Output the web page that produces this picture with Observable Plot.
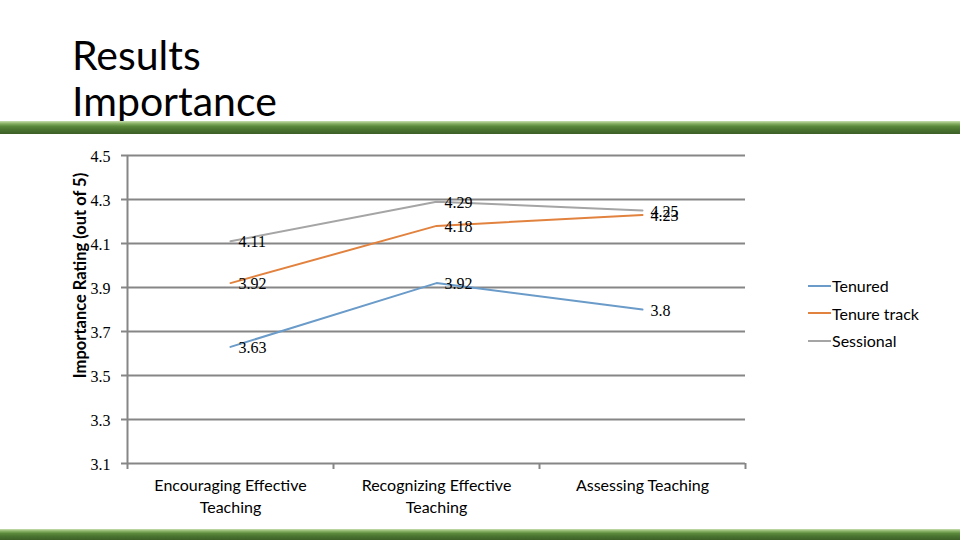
<!DOCTYPE html>
<html>
<head>
<meta charset="utf-8">
<script src="https://cdn.jsdelivr.net/npm/d3@7"></script>
<script src="https://cdn.jsdelivr.net/npm/@observablehq/plot@0.6"></script>
<style>
  html, body { margin: 0; padding: 0; background: #fff; }
  #page { position: relative; width: 960px; height: 540px; overflow: hidden; background: #fff; }
  #title { position: absolute; left: 72px; top: 32px; font-family: Lato, sans-serif; font-size: 41px; line-height: 46px; color: #000; }
  .bar { position: absolute; left: 0; width: 960px;
         background: linear-gradient(to bottom, #c9dfb2 0%, #8db56a 18%, #5b8a3c 40%, #4a7430 65%, #3c5f27 100%); }
  #chart { position: absolute; left: 0; top: 0; }
  #legend { position: absolute; left: 808px; top: 272px; font-family: Lato, sans-serif; font-size: 16px; color: #000; }
  .row { display: flex; align-items: center; height: 27.5px; }
  .sw { width: 23px; height: 2px; margin-right: 1px; }
</style>
</head>
<body>
<div id="page">
  <div id="title">Results<br>Importance</div>
  <div class="bar" style="top:121px;height:13px"></div>
  <div class="bar" style="top:529px;height:11px"></div>
  <div id="chart"></div>
  <div id="legend"></div>
</div>
<script>
const categories = ["Encouraging Effective\nTeaching", "Recognizing Effective\nTeaching", "Assessing Teaching"];
const seriesNames = ["Tenured", "Tenure track", "Sessional"];
const tenured = [3.63, 3.92, 3.8];
const tenureTrack = [3.92, 4.18, 4.23];
const sessional = [4.11, 4.29, 4.25];
const yTicks = [3.1, 3.3, 3.5, 3.7, 3.9, 4.1, 4.3, 4.5];
const seriesColors = ["#6a9bc9", "#e2823f", "#a5a5a5"];

const seriesValues = [tenured, tenureTrack, sessional];
const rows = [];
seriesNames.forEach((s, si) => {
  seriesValues[si].forEach((v, i) => rows.push({series: s, xi: i + 0.5, value: v}));
});

const gridColor = "#868686";
const chart = Plot.plot({
  width: 960,
  height: 540,
  marginLeft: 127,
  marginRight: 215,
  marginTop: 155,
  marginBottom: 77,
  style: {background: "transparent", overflow: "visible"},
  x: {domain: [0, 3]},
  y: {domain: [3.1, 4.5]},
  color: {domain: seriesNames, range: seriesColors},
  marks: [
    Plot.gridY(yTicks, {stroke: gridColor, strokeOpacity: 1, strokeWidth: 2}),
    Plot.ruleX([0], {stroke: gridColor, strokeWidth: 2}),
    Plot.axisY(yTicks, {tickSize: 6, stroke: gridColor, strokeWidth: 2, tickFormat: () => "", label: null}),
    Plot.text(yTicks, {y: d => d, text: d3.format(".1f"), frameAnchor: "left", textAnchor: "end", dx: -17, dy: 1,
      fontFamily: "Liberation Serif", fontSize: 16, fill: "#000"}),
    Plot.axisX([0, 1, 2, 3], {tickSize: 6, stroke: gridColor, strokeWidth: 2, tickFormat: () => "", label: null}),
    Plot.text(categories, {x: (d, i) => i + 0.5, text: d => d, frameAnchor: "bottom", lineAnchor: "top", dy: 12,
      fontFamily: "Lato", fontSize: 16, lineHeight: 1.38, fill: "#000"}),
    Plot.text(["Importance Rating (out of 5)"], {text: d => d, frameAnchor: "left", textAnchor: "middle", rotate: -90, dx: -47, dy: -34,
      fontFamily: "Lato", fontWeight: "bold", fontSize: 16.5, fill: "#000"}),
    Plot.line(rows, {x: "xi", y: "value", z: "series", stroke: "series", strokeWidth: 2}),
    Plot.text(rows, {x: "xi", y: "value", text: d => String(d.value), textAnchor: "start", dx: 8, dy: 1,
      fontFamily: "Liberation Serif", fontSize: 16, fill: "#000"})
  ]
});
document.getElementById("chart").appendChild(chart);

const legend = document.getElementById("legend");
seriesNames.forEach((s, i) => {
  const row = document.createElement("div");
  row.className = "row";
  const sw = document.createElement("div");
  sw.className = "sw";
  sw.style.background = seriesColors[i];
  const t = document.createElement("span");
  t.textContent = s;
  row.appendChild(sw);
  row.appendChild(t);
  legend.appendChild(row);
});
</script>
</body>
</html>
